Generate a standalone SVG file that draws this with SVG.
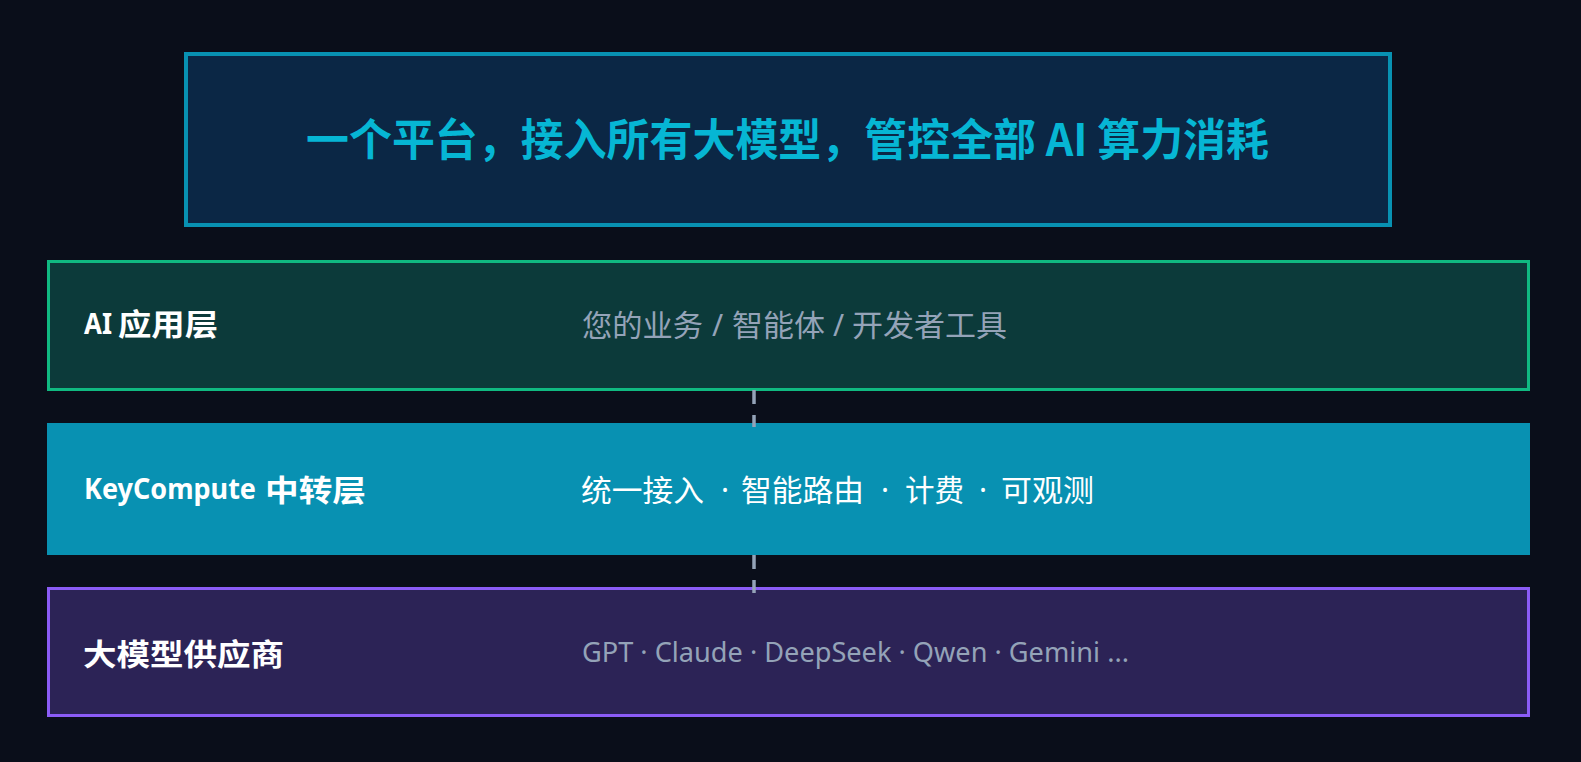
<svg xmlns="http://www.w3.org/2000/svg" width="1581" height="762" viewBox="0 0 1581 762">
<style>
.lat{font-family:'Noto Sans','Noto Sans CJK SC',sans-serif}
.cjk{font-family:'Noto Sans CJK SC','Noto Sans',sans-serif}
.lbl{fill:#ffffff;font-weight:700}
.desc{font-size:30px}
.grey{fill:#94a3b8}
.conn{stroke:#94a3b8;stroke-width:3.5;stroke-dasharray:14 11;fill:none}
</style>
<rect width="1581" height="762" fill="#0a0e1a"/>
<g id="headline">
<rect x="186" y="54" width="1204" height="171" fill="#0b2745" stroke="#0891b2" stroke-width="4"/>
<text class="cjk" x="306" y="156" font-size="44" font-weight="700" fill="#06b6d4" textLength="963" lengthAdjust="spacingAndGlyphs">一个平台，接入所有大模型，管控全部 AI 算力消耗</text>
</g>
<g id="layer-app">
<rect x="48.5" y="261.5" width="1480" height="128" fill="#0c3a3a" stroke="#10b981" stroke-width="3"/>
<text class="lat lbl" x="84" y="334" font-size="29" textLength="28" lengthAdjust="spacingAndGlyphs">AI</text>
<text class="cjk lbl" x="118" y="335" font-size="30" textLength="100" lengthAdjust="spacingAndGlyphs">应用层</text>
<text class="cjk desc grey" y="336"><tspan x="582" textLength="121" lengthAdjust="spacingAndGlyphs">您的业务</tspan><tspan class="lat" x="712">/</tspan><tspan x="732" textLength="93" lengthAdjust="spacingAndGlyphs">智能体</tspan><tspan class="lat" x="833">/</tspan><tspan x="852" textLength="155" lengthAdjust="spacingAndGlyphs">开发者工具</tspan></text>
</g>
<g id="layer-relay">
<rect x="47" y="423" width="1483" height="132" fill="#0891b2"/>
<text class="lat lbl" x="84" y="499" font-size="29" textLength="172" lengthAdjust="spacingAndGlyphs">KeyCompute</text>
<text class="cjk lbl" x="265" y="501" font-size="30" textLength="101" lengthAdjust="spacingAndGlyphs">中转层</text>
<text class="cjk desc" fill="#ffffff" y="501"><tspan x="581" textLength="123" lengthAdjust="spacingAndGlyphs">统一接入</tspan><tspan class="lat" x="721">·</tspan><tspan x="741" textLength="123" lengthAdjust="spacingAndGlyphs">智能路由</tspan><tspan class="lat" x="881">·</tspan><tspan x="905" textLength="59" lengthAdjust="spacingAndGlyphs">计费</tspan><tspan class="lat" x="979">·</tspan><tspan x="1001" textLength="93" lengthAdjust="spacingAndGlyphs">可观测</tspan></text>
</g>
<g id="layer-providers">
<rect x="48.5" y="588.5" width="1480" height="127" fill="#2c2356" stroke="#8b5cf6" stroke-width="3"/>
<text class="cjk lbl" x="83" y="665" font-size="30" textLength="201" lengthAdjust="spacingAndGlyphs">大模型供应商</text>
<text class="lat grey" x="582" y="662" font-size="28" textLength="547" lengthAdjust="spacingAndGlyphs">GPT · Claude · DeepSeek · Qwen · Gemini ...</text>
</g>
<g id="connectors">
<line class="conn" x1="754" y1="390" x2="754" y2="427"/>
<line class="conn" x1="754" y1="555" x2="754" y2="593"/>
</g>
</svg>
